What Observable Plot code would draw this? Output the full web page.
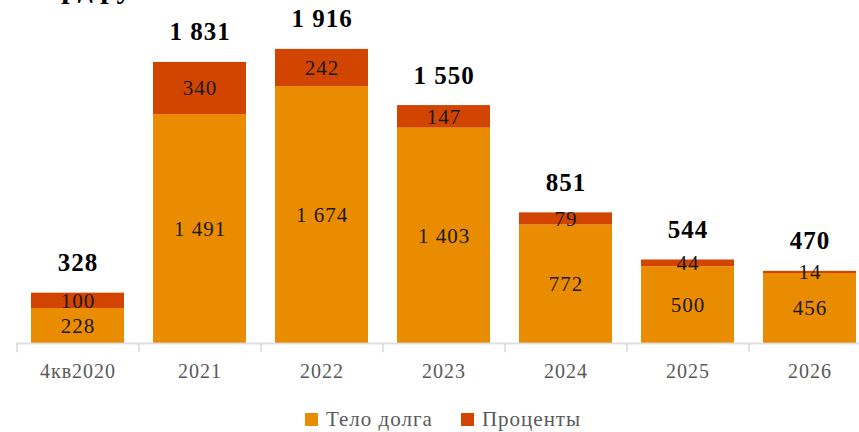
<!DOCTYPE html>
<html>
<head>
<meta charset="utf-8">
<script src="https://cdn.jsdelivr.net/npm/d3@7"></script>
<script src="https://cdn.jsdelivr.net/npm/@observablehq/plot@0.6"></script>
<style>
  body { margin: 0; padding: 0; background: #fff; font-family: 'Liberation Serif', serif; }
  #wrap { width: 859px; height: 432px; position: relative; overflow: hidden; }
  #title { position: absolute; left: 24px; top: -27px; font-size: 30px; line-height: 30px; font-weight: bold; color: #000; white-space: nowrap; }
  #chart { position: absolute; left: 0; top: 0; }
  #legend { position: absolute; left: 305px; top: 407px; display: flex; align-items: center; font-size: 21px; letter-spacing: 1px; color: #595959; white-space: nowrap; }
  #legend .sw { width: 13px; height: 13px; display: inline-block; margin-right: 8px; }
  #legend .item { display: flex; align-items: center; margin-right: 28px; }
</style>
</head>
<body>
<div id="wrap">
<div id="chart"></div>
<div id="title" style="font-family:'Liberation Serif', serif">млрд руб.</div>
<div id="legend" style="font-family:'Liberation Serif', serif"></div>
</div>
<script>
const categories = ["4кв2020", "2021", "2022", "2023", "2024", "2025", "2026"];
const principal = [228, 1491, 1674, 1403, 772, 500, 456];
const interest = [100, 340, 242, 147, 79, 44, 14];
const totals = [328, 1831, 1916, 1550, 851, 544, 470];
const seriesNames = ["Тело долга", "Проценты"];
const seriesColors = ["#EA8C00", "#D24500"];

const rows = [];
categories.forEach((c, i) => rows.push({cat: c, series: seriesNames[0], value: principal[i]}));
categories.forEach((c, i) => rows.push({cat: c, series: seriesNames[1], value: interest[i]}));
const totalRows = categories.map((c, i) => ({cat: c, total: totals[i]}));

const fmt = v => d3.format(",")(v).replace(/,/g, " ");
const font = "'Liberation Serif', serif";

const chart = Plot.plot({
  width: 859,
  height: 400,
  marginTop: 36,
  marginBottom: 57,
  marginLeft: 16,
  marginRight: 0,
  style: {fontFamily: font, background: "transparent", overflow: "visible", letterSpacing: "1px"},
  x: {domain: categories, range: [16, 870], paddingInner: 0.24, paddingOuter: 0.12, label: null},
  y: {domain: [0, 2000], axis: null},
  color: {domain: seriesNames, range: seriesColors},
  marks: [
    Plot.barY(rows, Plot.stackY({x: "cat", y: "value", fill: "series", order: null})),
    Plot.ruleY([0], {stroke: "#d9d9d9", strokeWidth: 2, strokeOpacity: 0.85}),
    Plot.ruleX(categories, {x: d => d, y1: 0, y2: -60, dx: -61, stroke: "#d9d9d9", strokeWidth: 1.5}),
    Plot.text(rows, Plot.stackY({x: "cat", y: "value", order: null, text: d => fmt(d.value), fontSize: 21, fill: "#1a1a1a", lineAnchor: "middle"})),
    Plot.text(totalRows, {x: "cat", y: "total", text: d => fmt(d.total), dy: -30, fontSize: 25, fontWeight: "bold", fill: "#000", lineAnchor: "middle"}),
    Plot.axisX({tickSize: 0, tickPadding: 28, fontSize: 20, fill: "#595959", label: null, lineAnchor: "middle"})
  ]
});
chart.setAttribute("font-family", font);
document.getElementById("chart").appendChild(chart);

const legend = document.getElementById("legend");
seriesNames.forEach((name, i) => {
  const item = document.createElement("div");
  item.className = "item";
  const sw = document.createElement("span");
  sw.className = "sw";
  sw.style.background = seriesColors[i];
  const t = document.createElement("span");
  t.textContent = name;
  item.appendChild(sw);
  item.appendChild(t);
  legend.appendChild(item);
});
</script>
</body>
</html>
